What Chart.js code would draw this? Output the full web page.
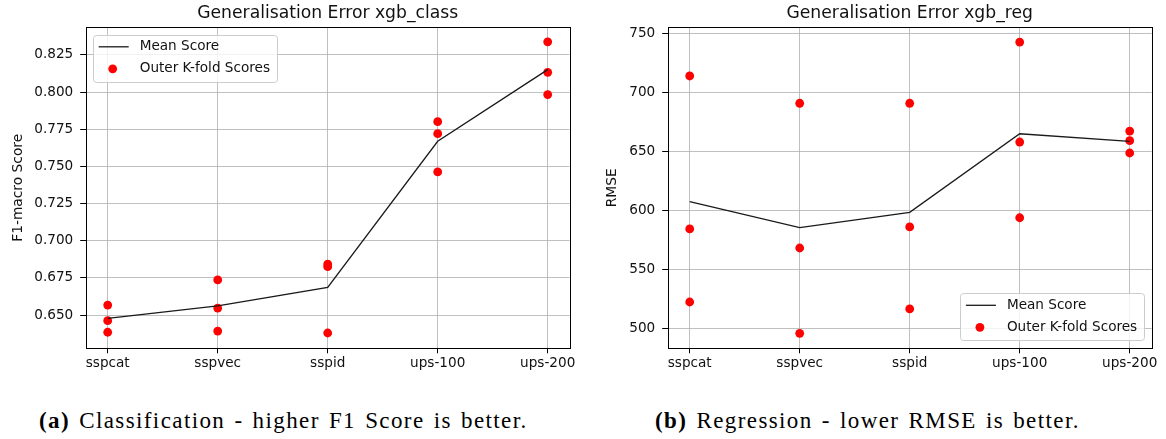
<!DOCTYPE html>
<html>
<head>
<meta charset="utf-8">
<title>Generalisation Error</title>
<script src="https://cdn.jsdelivr.net/npm/chart.js@4.4.0/dist/chart.umd.min.js"></script>
<style>
  body { margin: 0; width: 1166px; height: 439px; background: #fff; overflow: hidden; position: relative; }
  .panel { position: absolute; top: 0; width: 582px; height: 380px; }
  .caption {
    position: absolute; top: 408px; line-height: 26px;
    font-family: "Liberation Serif", serif; font-size: 23px; color: #000;
    white-space: nowrap; letter-spacing: 1.4px; word-spacing: 2px;
  }
</style>
</head>
<body>
<div class="panel" style="left:0"><canvas id="chartClass" width="582" height="380"></canvas></div>
<div class="panel" style="left:582px"><canvas id="chartReg" width="582" height="380"></canvas></div>
<div class="caption" style="left:39px"><b>(a)</b> Classification - higher F1 Score is better.</div>
<div class="caption" style="left:655px"><b>(b)</b> Regression - lower RMSE is better.</div>

<script>
const categories = ["sspcat", "sspvec", "sspid", "ups-100", "ups-200"];

// xgb_class: F1-macro per feature set
const f1Mean = [0.6478, 0.6561, 0.6686, 0.7669, 0.8151];
const f1FoldA = [0.6567, 0.6736, 0.6843, 0.7801, 0.8338];
const f1FoldB = [0.6462, 0.6547, 0.6825, 0.7720, 0.8133];
const f1FoldC = [0.6384, 0.6392, 0.6379, 0.7463, 0.7983];
const f1Ticks = [0.650, 0.675, 0.700, 0.725, 0.750, 0.775, 0.800, 0.825];

// xgb_reg: RMSE per feature set
const rmseMean = [607.5, 585.5, 598.5, 665.0, 658.6];
const rmseFoldA = [713.9, 690.8, 690.8, 742.6, 667.3];
const rmseFoldB = [584.4, 568.3, 586.1, 658.0, 659.1];
const rmseFoldC = [522.6, 496.1, 516.7, 593.9, 648.7];
const rmseTicks = [500, 550, 600, 650, 700, 750];

const FONT = "'DejaVu Sans', sans-serif";
const INK = "#111";

// title above the plot area + closed box round it
const axesFrame = {
  id: "axesFrame",
  afterDatasetsDraw(chart, args, opts) {
    const { ctx, chartArea: a } = chart;
    ctx.save();
    const l = Math.round(a.left) + 0.5, t = Math.round(a.top) + 0.5;
    const r = Math.round(a.right) + 0.5, b = Math.round(a.bottom) + 0.5;
    ctx.strokeStyle = "#000";
    ctx.lineWidth = 1;
    ctx.strokeRect(l, t, r - l, b - t);

    ctx.fillStyle = INK;
    ctx.font = `17.2px ${FONT}`;
    ctx.textAlign = "center";
    ctx.textBaseline = "middle";
    ctx.fillText(opts.title, (a.left + a.right) / 2, a.top - 14);
    ctx.restore();
  },
};

// legend box drawn inside the axes, like pyplot's legend(loc=...)
const boxLegend = {
  id: "boxLegend",
  afterDraw(chart, args, opts) {
    const { ctx, chartArea: a } = chart;
    const sets = chart.data.datasets;
    ctx.save();
    ctx.font = `13.6px ${FONT}`;
    const textW = Math.max(...sets.map((d) => ctx.measureText(d.label).width));
    const w = 47 + textW + 7;
    const h = 47;
    const upper = opts.loc === "upper left";
    const x = upper ? a.left + 7 : a.right - 7.5 - w;
    const y = upper ? a.top + 7.5 : a.bottom - 8 - h;

    ctx.beginPath();
    ctx.roundRect(Math.round(x) + 0.5, Math.round(y) + 0.5, Math.round(w), Math.round(h), 3);
    ctx.fillStyle = "rgba(255,255,255,0.8)";
    ctx.fill();
    ctx.strokeStyle = "#cccccc";
    ctx.lineWidth = 1;
    ctx.stroke();

    sets.forEach((d, i) => {
      const cy = y + 12 + i * 22;
      if (d.showLine) {
        ctx.strokeStyle = d.borderColor;
        ctx.lineWidth = d.borderWidth;
        ctx.beginPath();
        ctx.moveTo(x + 6, cy);
        ctx.lineTo(x + 36, cy);
        ctx.stroke();
      } else {
        ctx.fillStyle = d.backgroundColor;
        ctx.beginPath();
        ctx.arc(x + 20, cy, d.pointRadius, 0, Math.PI * 2);
        ctx.fill();
      }
      ctx.fillStyle = INK;
      ctx.textAlign = "left";
      ctx.textBaseline = "middle";
      ctx.fillText(d.label, x + 47, cy);
    });
    ctx.restore();
  },
};

const makeChart = (id, cfg) => {
  const meanPts = cfg.mean.map((v, i) => ({ x: i, y: v }));
  const foldPts = [];
  cfg.folds.forEach((fold) => fold.forEach((v, i) => foldPts.push({ x: i, y: v })));

  const grid = { color: "#b0b0b0", lineWidth: 0.8, tickColor: "#000", tickWidth: 1 };

  return new Chart(document.getElementById(id), {
    type: "scatter",
    data: {
      datasets: [
        {
          label: "Mean Score",
          data: meanPts,
          showLine: true,
          borderColor: "#1a1a1a",
          backgroundColor: "#1a1a1a",
          borderWidth: 1.3,
          pointRadius: 0,
        },
        {
          label: "Outer K-fold Scores",
          data: foldPts,
          backgroundColor: "#ff0000",
          borderWidth: 0,
          pointRadius: 4.4,
        },
      ],
    },
    options: {
      responsive: false,
      animation: false,
      events: [],
      layout: { padding: { top: 27.3, right: 12.3, left: 0, bottom: 0 } },
      plugins: {
        legend: { display: false },
        tooltip: { enabled: false },
        axesFrame: { title: cfg.title },
        boxLegend: { loc: cfg.legendLoc },
      },
      scales: {
        x: {
          type: "linear",
          min: -0.2,
          max: 4.2,
          afterBuildTicks: (s) => { s.ticks = categories.map((c, i) => ({ value: i })); },
          afterFit: (s) => { s.height = 31.7; },
          ticks: {
            callback: (v) => categories[v],
            color: INK,
            font: { family: FONT, size: 13.6 },
            padding: 2.4,
            maxRotation: 0,
            autoSkip: false,
          },
          grid: { ...grid, tickLength: 5 },
          border: { display: false },
        },
        y: {
          min: cfg.min,
          max: cfg.max,
          afterBuildTicks: (s) => { s.ticks = cfg.ticks.map((v) => ({ value: v })); },
          afterFit: (s) => { s.width = 85.7; },
          ticks: {
            callback: cfg.fmt,
            color: INK,
            font: { family: FONT, size: 13.6 },
            padding: 7,
          },
          title: {
            display: true,
            text: cfg.yLabel,
            color: INK,
            font: { family: FONT, size: 13.8 },
            padding: { top: cfg.yTitlePad, bottom: 0 },
          },
          grid: { ...grid, tickLength: 5.5 },
          border: { display: false },
        },
      },
    },
    plugins: [axesFrame, boxLegend],
  });
};

makeChart("chartClass", {
  title: "Generalisation Error xgb_class",
  yLabel: "F1-macro Score",
  mean: f1Mean,
  folds: [f1FoldA, f1FoldB, f1FoldC],
  ticks: f1Ticks,
  min: 0.6276,
  max: 0.8436,
  fmt: (v) => v.toFixed(3),
  yTitlePad: 10,
  legendLoc: "upper left",
});

makeChart("chartReg", {
  title: "Generalisation Error xgb_reg",
  yLabel: "RMSE",
  mean: rmseMean,
  folds: [rmseFoldA, rmseFoldB, rmseFoldC],
  ticks: rmseTicks,
  min: 483.4,
  max: 755.1,
  fmt: (v) => String(v),
  yTitlePad: 22,
  legendLoc: "lower right",
});
</script>
</body>
</html>
